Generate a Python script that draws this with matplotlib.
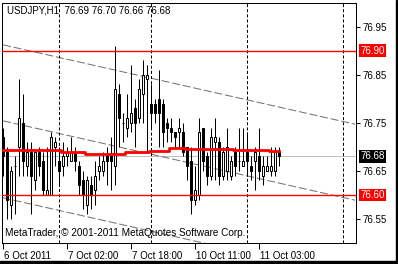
import numpy as np
import matplotlib
matplotlib.use("Agg")
import matplotlib.pyplot as plt
import matplotlib.transforms as mtransforms

# ---- data (USDJPY H1, bar index 0 = 6 Oct 2011 10:00)
opens = [76.72, 76.69, 76.58, 76.66, 76.70, 76.75, 76.66, 76.69, 76.63, 76.69,
         76.67, 76.60, 76.60, 76.70, 76.67, 76.66, 76.68, 76.67, 76.69, 76.66,
         76.63, 76.58, 76.62, 76.61, 76.65, 76.65, 76.68, 76.68, 76.66, 76.81,
         76.75, 76.74, 76.75, 76.78, 76.76, 76.81, 76.84, 76.79, 76.79, 76.80,
         76.79, 76.75, 76.74, 76.73, 76.73, 76.73, 76.70, 76.67, 76.59, 76.60,
         76.74, 76.68, 76.64, 76.71, 76.71, 76.64, 76.65, 76.64, 76.69, 76.67,
         76.66, 76.69, 76.66, 76.67, 76.68, 76.64, 76.65, 76.65, 76.65, 76.69]
highs = [76.74, 76.70, 76.66, 76.68, 76.84, 76.81, 76.71, 76.71, 76.69, 76.70,
         76.69, 76.70, 76.73, 76.72, 76.70, 76.71, 76.70, 76.72, 76.70, 76.67,
         76.65, 76.64, 76.64, 76.67, 76.68, 76.69, 76.70, 76.72, 76.91, 76.83,
         76.77, 76.81, 76.87, 76.80, 76.84, 76.88, 76.87, 76.83, 76.80, 76.86,
         76.80, 76.76, 76.76, 76.73, 76.76, 76.75, 76.70, 76.70, 76.66, 76.76,
         76.74, 76.69, 76.74, 76.76, 76.72, 76.70, 76.74, 76.68, 76.70, 76.74,
         76.74, 76.73, 76.68, 76.70, 76.74, 76.68, 76.68, 76.70, 76.70, 76.70]
lows = [76.64, 76.55, 76.55, 76.56, 76.64, 76.64, 76.64, 76.56, 76.61, 76.64,
        76.60, 76.60, 76.60, 76.66, 76.62, 76.64, 76.66, 76.67, 76.65, 76.60,
        76.57, 76.56, 76.57, 76.58, 76.63, 76.64, 76.62, 76.61, 76.62, 76.70,
        76.71, 76.72, 76.73, 76.70, 76.75, 76.75, 76.69, 76.74, 76.75, 76.70,
        76.70, 76.71, 76.71, 76.70, 76.70, 76.68, 76.63, 76.56, 76.58, 76.59,
        76.65, 76.62, 76.63, 76.63, 76.62, 76.63, 76.63, 76.63, 76.64, 76.65,
        76.66, 76.64, 76.63, 76.61, 76.63, 76.62, 76.65, 76.64, 76.64, 76.66]
closes = [76.68, 76.59, 76.65, 76.66, 76.76, 76.67, 76.69, 76.64, 76.69, 76.66,
          76.61, 76.61, 76.72, 76.71, 76.65, 76.68, 76.69, 76.69, 76.67, 76.62,
          76.60, 76.63, 76.60, 76.64, 76.66, 76.67, 76.67, 76.67, 76.82, 76.76,
          76.75, 76.76, 76.77, 76.75, 76.82, 76.85, 76.85, 76.77, 76.77, 76.77,
          76.73, 76.74, 76.73, 76.72, 76.74, 76.69, 76.66, 76.59, 76.61, 76.73,
          76.67, 76.64, 76.72, 76.72, 76.64, 76.69, 76.70, 76.67, 76.66, 76.67,
          76.67, 76.67, 76.65, 76.69, 76.65, 76.66, 76.66, 76.66, 76.69, 76.68]
# moving average (red step line)
ma = [76.693] * 15 + [76.690] * 6 + [76.686] * 10 + [76.690] * 6 + [76.692] * 5 \
     + [76.697] * 4 + [76.695] * 7 + [76.696] * 5 + [76.693] * 9 + [76.691] * 3

# equidistant channel, price at bar 0 and bar 88
chan_x = [0, 88]
chan_upper = [76.912, 76.747]
chan_middle = [76.754, 76.589]
chan_lower = [76.594, 76.429]

red_levels = [76.90, 76.60]
bid = 76.68
separators = [14, 37, 61, 85]
xtick_pos = [0, 16, 32, 48, 64]
xtick_lab = ["6 Oct 2011", "7 Oct 02:00", "7 Oct 18:00", "10 Oct 11:00", "11 Oct 03:00"]
ytick_pos = [76.55, 76.65, 76.75, 76.85, 76.95]

plt.rcParams["font.family"] = ["Liberation Sans", "DejaVu Sans"]
plt.rcParams["lines.scale_dashes"] = False
LW = 0.72  # one pixel at dpi 100

fig = plt.figure(figsize=(3.98, 2.64), dpi=100)
fig.patch.set_facecolor("white")
ax = fig.add_axes([2 / 398, 1 - 243 / 264, 354 / 398, 240.5 / 264])
ax.set_xlim(-0.25, 88.25)
ax.set_ylim(76.50, 77.00)

idx = np.arange(len(opens))

# bid line + channel
ax.axhline(bid, color="#c0c0c0", lw=LW, zorder=1, snap=True)
for ys in (chan_upper, chan_middle, chan_lower):
    ax.plot(chan_x, ys, color="#707070", lw=LW, dashes=(5.8, 2.0), zorder=1)

# period separators
for s in separators:
    ax.axvline(s, color="black", lw=LW, dashes=(2.2, 1.5), zorder=1, snap=True)

# candles
ax.vlines(idx, lows, highs, color="black", lw=LW, zorder=2, snap=True)
o = np.array(opens)
c = np.array(closes)
face = ["white" if cc >= oo else "black" for oo, cc in zip(o, c)]
ax.bar(idx, c - o, bottom=o, width=0.5, color=face, edgecolor="black",
       linewidth=LW, zorder=3, snap=True)

# moving average
ax.step(idx, ma, where="mid", color="#ff0000", lw=2.0, zorder=4, snap=True)

# red levels
for lv in red_levels:
    ax.axhline(lv, color="#ff0000", lw=1.0, zorder=4, snap=True)

# axes styling
for sp in ax.spines.values():
    sp.set_linewidth(LW)
ax.yaxis.tick_right()
ax.set_yticks(ytick_pos)
ax.set_yticklabels([f"{v:.2f}" for v in ytick_pos])
ax.tick_params(axis="y", direction="out", length=3, width=LW, pad=2, labelsize=7)
ax.set_xticks(xtick_pos)
ax.set_xticklabels(xtick_lab)
ax.tick_params(axis="x", direction="out", length=4, width=LW, pad=1.5, labelsize=7)
offset = mtransforms.ScaledTranslation(1 / 100, 0, fig.dpi_scale_trans)
for lab in ax.get_xticklabels():
    lab.set_horizontalalignment("left")
    lab.set_transform(lab.get_transform() + offset)

# price boxes on the right
boxes = [(76.90, "#ff0000"), (bid, "black"), (76.60, "#ff0000")]
for val, col in boxes:
    ax.annotate(f"{val:.2f}", xy=(1, val), xycoords=("axes fraction", "data"),
                xytext=(3.2, 0), textcoords="offset points", ha="left", va="center",
                color="white", fontsize=7, annotation_clip=False,
                bbox=dict(boxstyle="square,pad=0.12", fc=col, ec="none"))

# texts
ax.text(5 / 354, 1 - 8 / 240.5, "USDJPY,H1  76.69 76.70 76.66 76.68", transform=ax.transAxes,
        ha="left", va="center", fontsize=7, zorder=6)
ax.text(3 / 354, 10 / 240.5, "MetaTrader, \u00a9 2001-2011 MetaQuotes Software Corp.",
        transform=ax.transAxes, ha="left", va="center", fontsize=7.2, zorder=6)

# dark window edge on right and bottom
fig.patches.append(plt.Rectangle((395.5 / 398, 0), 3 / 398, 1, transform=fig.transFigure,
                                 color="black", zorder=10))
fig.patches.append(plt.Rectangle((0, 0), 1, 3 / 264, transform=fig.transFigure,
                                 color="black", zorder=10))

fig.savefig("out.png", dpi=100, facecolor="white")
